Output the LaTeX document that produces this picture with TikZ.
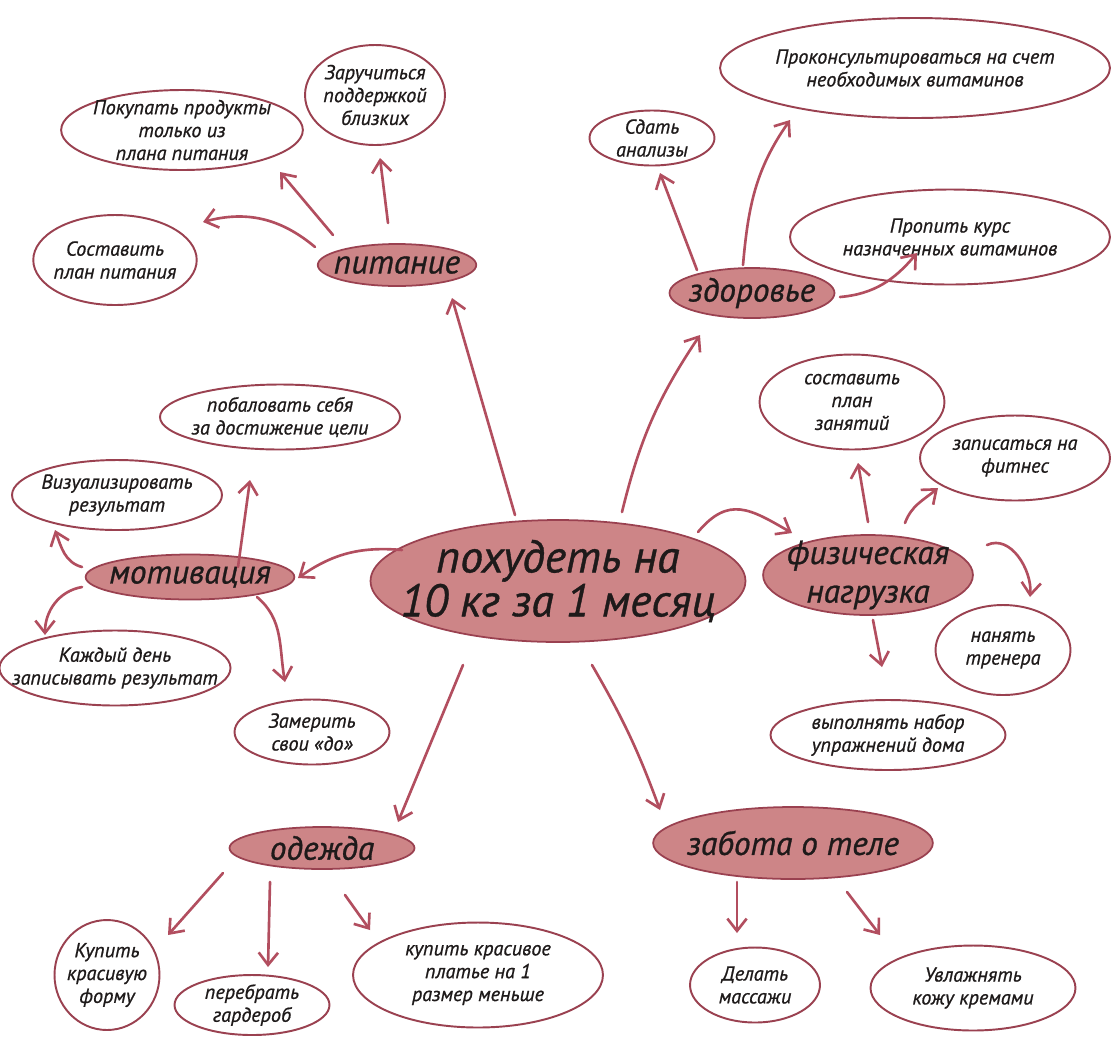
\documentclass[tikz,border=0pt]{standalone}
\usepackage{fontspec}
\setmainfont{PT Sans}[ItalicFeatures={FakeBold=0.8}]
\usetikzlibrary{shapes.geometric,arrows.meta}
\definecolor{blobpink}{HTML}{CD8587}
\definecolor{inkline}{HTML}{9A4150}
\definecolor{arrowred}{HTML}{B24E5F}
\definecolor{textdark}{HTML}{1E1A1A}

\begin{document}
\begin{tikzpicture}[x=0.02cm, y=-0.02cm,
    goal/.style={ellipse, draw=inkline, fill=blobpink, line width=1pt, inner xsep=-20pt, inner ysep=-4pt, align=center, text=textdark, font=\itshape\fontsize{26}{25}\selectfont},
    topic/.style={ellipse, draw=inkline, fill=blobpink, line width=1pt, inner sep=-4pt, align=center, text=textdark, font=\itshape\fontsize{19}{22}\selectfont},
    idea/.style={ellipse, draw=inkline, fill=white, line width=1.1pt, inner sep=-2pt, align=center, text=textdark, font=\itshape\fontsize{11.5}{13}\selectfont},
    arr/.style={-{Straight Barb[length=7pt,width=11pt]}, draw=arrowred, line width=1.5pt, line cap=round}]
        \path[use as bounding box, fill=white] (0,0) rectangle (1112,1039);

        \node[goal, minimum width=7.5cm, minimum height=2.44cm] (loss) at (558,581) {похудеть на\\10 кг за 1 месяц};
        \node[topic, minimum width=2.96cm, minimum height=0.84cm] (food) at (397,265) {питание};
        \node[topic, minimum width=3.3cm, minimum height=1cm] (health) at (752,293) {здоровье};
        \node[topic, minimum width=3.6cm, minimum height=0.9cm] (motiv) at (190,577) {мотивация};
        \node[topic, minimum width=4.1cm, minimum height=1.6cm] (sport) at (868,575) {физическая\\нагрузка};
        \node[topic, minimum width=3.7cm, minimum height=0.84cm] (clothes) at (322,848) {одежда};
        \node[topic, minimum width=5.2cm, minimum height=1.44cm] (body) at (793,843) {забота о теле};

        \node[idea, minimum width=4.5cm, minimum height=1.6cm] (shop) at (182,130) {Покупать продукты\\только из\\плана питания};
        \node[idea, minimum width=2.8cm, minimum height=2cm] (support) at (375,95) {Заручиться\\поддержкой\\близких};
        \node[idea, minimum width=3cm, minimum height=1.8cm] (plan) at (115,260) {Составить\\план питания};
        \node[idea, minimum width=2.5cm, minimum height=1.1cm] (tests) at (652,138) {Сдать\\анализы};
        \node[idea, minimum width=7.8cm, minimum height=2cm] (consult) at (915,68) {Проконсультироваться на счет\\необходимых витаминов};
        \node[idea, minimum width=6.4cm, minimum height=1.9cm] (vitamins) at (950,237) {Пропить курс\\назначенных витаминов};
        \node[idea, minimum width=4.6cm, minimum height=1.3cm] (reward) at (280,417) {побаловать себя\\за достижение цели};
        \node[idea, minimum width=4.2cm, minimum height=1.4cm] (visual) at (117,495) {Визуализировать\\результат};
        \node[idea, inner xsep=-12pt, minimum width=4.4cm, minimum height=1.5cm] (diary) at (115,668) {Каждый день\\записывать результат};
        \node[idea, minimum width=3.1cm, minimum height=1.3cm] (measure) at (312,732) {Замерить\\свои «до»};
        \node[idea, minimum width=3.7cm, minimum height=1.9cm] (schedule) at (852,402) {составить\\план\\занятий};
        \node[idea, minimum width=3.8cm, minimum height=1.7cm] (fitness) at (1015,458) {записаться на\\фитнес};
        \node[idea, minimum width=2.7cm, minimum height=1.8cm] (trainer) at (1003,650) {нанять\\тренера};
        \node[idea, minimum width=4.7cm, minimum height=1.4cm] (home) at (888,735) {выполнять набор\\упражнений дома};
        \node[idea, minimum width=2.1cm, minimum height=2.2cm] (uniform) at (107,975) {Купить\\красивую\\форму};
        \node[idea, minimum width=3.1cm, minimum height=1.2cm] (wardrobe) at (252,1005) {перебрать\\гардероб};
        \node[idea, minimum width=5cm, minimum height=2.1cm] (dress) at (478,975) {купить красивое\\платье на 1\\размер меньше};
        \node[idea, minimum width=2.6cm, minimum height=1.5cm] (massage) at (755,985) {Делать\\массажи};
        \node[idea, minimum width=4.1cm, minimum height=1.7cm] (cream) at (973,988) {Увлажнять\\кожу кремами};

        \draw[arr] ([shift={(-43,-66)}]loss.center) -- ([shift={(55,33)}]food.center);
        \draw[arr] ([shift={(64,-69)}]loss.center) to[bend left=10] ([shift={(-52,42)}]health.center);
        \draw[arr] ([shift={(-156,-31)}]loss.center) to[out=175,in=35] ([shift={(108,1)}]motiv.center);
        \draw[arr] ([shift={(140,-49)}]loss.center) to[out=50,in=150,looseness=1.3] ([shift={(-76,-42)}]sport.center);
        \draw[arr] ([shift={(-95,84)}]loss.center) -- ([shift={(76,-26)}]clothes.center);
        \draw[arr] ([shift={(34,84)}]loss.center) to[bend left=5] ([shift={(-133,-33)}]body.center);

        \draw[arr] ([shift={(-64,-30)}]food.center) -- ([shift={(98,42)}]shop.center);
        \draw[arr] ([shift={(-82,-18)}]food.center) to[out=140,in=15] ([shift={(88,-38)}]plan.center);
        \draw[arr] ([shift={(-9,-42)}]food.center) -- ([shift={(5,63)}]support.center);

        \draw[arr] ([shift={(-55,-23)}]health.center) -- ([shift={(8,35)}]tests.center);
        \draw[arr] ([shift={(-9,-28)}]health.center) to[out=85,in=235] ([shift={(-125,52)}]consult.center);
        \draw[arr] ([shift={(88,4)}]health.center) to[out=5,in=230] ([shift={(-33,16)}]vitamins.center);

        \draw[arr] ([shift={(48,-10)}]motiv.center) -- ([shift={(-30,63)}]reward.center);
        \draw[arr] ([shift={(-108,-10)}]motiv.center) to[out=165,in=-70] ([shift={(-62,35)}]visual.center);
        \draw[arr] ([shift={(-108,10)}]motiv.center) to[out=190,in=90] ([shift={(-70,-33)}]diary.center);
        \draw[arr] ([shift={(67,20)}]motiv.center) to[out=-40,in=100] ([shift={(-27,-50)}]measure.center);

        \draw[arr] ([shift={(0,-53)}]sport.center) -- ([shift={(6,61)}]schedule.center);
        \draw[arr] ([shift={(37,-52)}]sport.center) to[out=70,in=220] ([shift={(-77,30)}]fitness.center);
        \draw[arr] ([shift={(119,-30)}]sport.center) to[out=25,in=85] ([shift={(27,-53)}]trainer.center);
        \draw[arr] ([shift={(5,45)}]sport.center) -- ([shift={(-6,-68)}]home.center);

        \draw[arr] ([shift={(-99,25)}]clothes.center) -- ([shift={(61,-40)}]uniform.center);
        \draw[arr] ([shift={(-52,34)}]clothes.center) -- ([shift={(16,-38)}]wardrobe.center);
        \draw[arr] ([shift={(23,47)}]clothes.center) -- ([shift={(-108,-45)}]dress.center);

        \draw[arr] ([shift={(-56,39)}]body.center) -- ([shift={(-18,-52)}]massage.center);
        \draw[arr] ([shift={(54,49)}]body.center) -- ([shift={(-93,-53)}]cream.center);
    \end{tikzpicture}
\end{document}
